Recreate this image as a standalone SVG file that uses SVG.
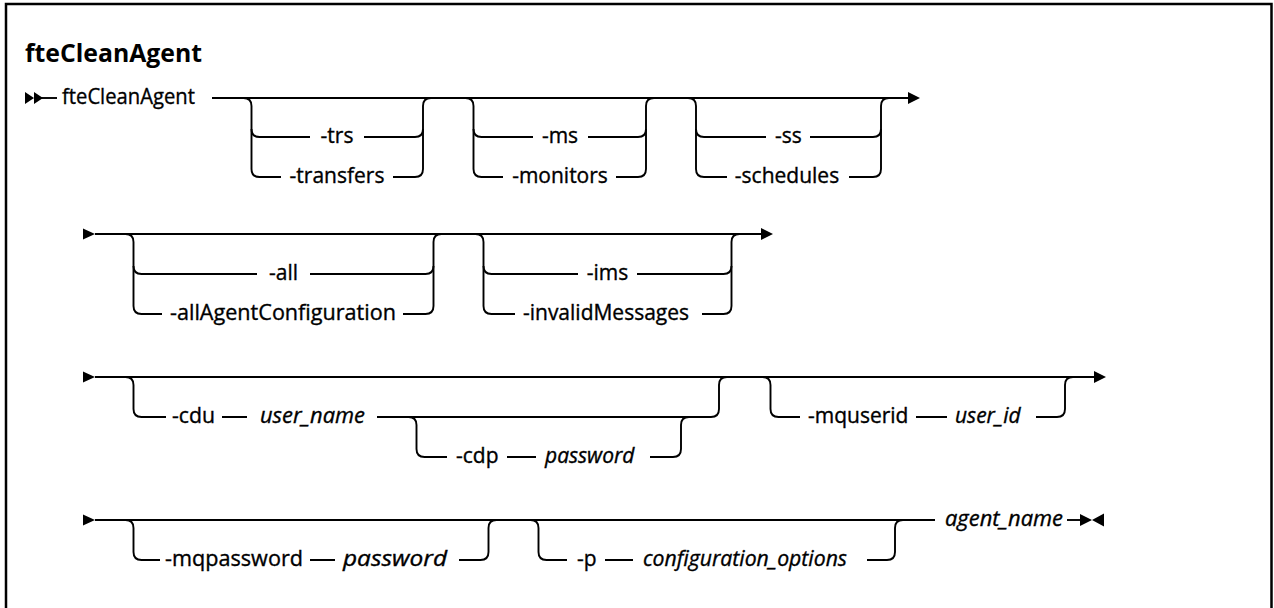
<svg xmlns="http://www.w3.org/2000/svg" width="1274" height="608" viewBox="0 0 1274 608">
<style>
.ln{fill:none;stroke:#000;stroke-width:1.9}
.ar{fill:#000;stroke:none}
.t{font-family:"Open Sans","Liberation Sans",sans-serif;font-size:21px;fill:#000;stroke:#000;stroke-width:0.35}
.c{text-anchor:middle}
.i{font-style:italic}
.h{font-family:"Open Sans","Liberation Sans",sans-serif;font-size:25px;font-weight:700;fill:#000}
</style>
<rect width="1274" height="608" fill="#fff"/>
<path d="M6,612 V4 H1271.5 V612" fill="none" stroke="#000" stroke-width="2.5"/>
<g id="title"><text class="h" x="25" y="62" textLength="177" lengthAdjust="spacingAndGlyphs">fteCleanAgent</text></g>

<g id="connectors">
<!-- row 1 -->
<path class="ar" d="M25,92 L34,98 L25,104 Z M34,92 L43,98 L34,104 Z"/>
<path class="ln" d="M34,98 H57"/>
<path class="ln" d="M212,98 H909"/>
<path class="ar" d="M908,92 L920,98 L908,104 Z"/>
<path class="ln" d="M243.5,98 Q251.5,98 251.5,106 V129 Q251.5,137 259.5,137 H310 M364,137 H415 Q423,137 423,129 V106 Q423,98 431,98"/>
<path class="ln" d="M251.5,129 V169 Q251.5,177 259.5,177 H281 M393,177 H415 Q423,177 423,169 V129"/>
<path class="ln" d="M465.5,98 Q473.5,98 473.5,106 V129 Q473.5,137 481.5,137 H533 M588,137 H638 Q646,137 646,129 V106 Q646,98 654,98"/>
<path class="ln" d="M473.5,129 V169 Q473.5,177 481.5,177 H503 M616,177 H638 Q646,177 646,169 V129"/>
<path class="ln" d="M688,98 Q696,98 696,106 V129 Q696,137 704,137 H766 M810,137 H873 Q881,137 881,129 V106 Q881,98 889,98"/>
<path class="ln" d="M696,129 V169 Q696,177 704,177 H727 M849,177 H873 Q881,177 881,169 V129"/>
<!-- row 2 -->
<path class="ar" d="M83,228.5 L95,234 L83,239.5 Z"/>
<path class="ln" d="M95,234 H762"/>
<path class="ar" d="M761,228 L773,234 L761,240 Z"/>
<path class="ln" d="M125.5,234 Q133.5,234 133.5,242 V266 Q133.5,274 141.5,274 H257 M310,274 H425.5 Q433.5,274 433.5,266 V242 Q433.5,234 441.5,234"/>
<path class="ln" d="M133.5,266 V306 Q133.5,314 141.5,314 H162 M403,314 H425.5 Q433.5,314 433.5,306 V266"/>
<path class="ln" d="M475.5,234 Q483.5,234 483.5,242 V266 Q483.5,274 491.5,274 H578 M637,274 H723.5 Q731.5,274 731.5,266 V242 Q731.5,234 739.5,234"/>
<path class="ln" d="M483.5,266 V306 Q483.5,314 491.5,314 H515 M702,314 H723.5 Q731.5,314 731.5,306 V266"/>
<!-- row 3 -->
<path class="ar" d="M83,371.5 L95,377 L83,382.5 Z"/>
<path class="ln" d="M95,377 H1095"/>
<path class="ar" d="M1094,371 L1106,377 L1094,383 Z"/>
<path class="ln" d="M125.5,377 Q133.5,377 133.5,385 V409 Q133.5,417 141.5,417 H166 M222,417 H247 M377,417 H711 Q719,417 719,409 V385 Q719,377 727,377"/>
<path class="ln" d="M408.5,417 Q416.5,417 416.5,425 V449 Q416.5,457 424.5,457 H447 M507,457 H536 M650,457 H673 Q681,457 681,449 V425 Q681,417 689,417"/>
<path class="ln" d="M762.5,377 Q770.5,377 770.5,385 V409 Q770.5,417 778.5,417 H800 M916,417 H947 M1036,417 H1057 Q1065,417 1065,409 V385 Q1065,377 1073,377"/>
<!-- row 4 -->
<path class="ar" d="M83,514.5 L95,520 L83,525.5 Z"/>
<path class="ln" d="M95,520 H935"/>
<path class="ln" d="M125.5,520 Q133.5,520 133.5,528 V552 Q133.5,560 141.5,560 H160 M310,560 H335 M459,560 H480.5 Q488.5,560 488.5,552 V528 Q488.5,520 496.5,520"/>
<path class="ln" d="M530.5,520 Q538.5,520 538.5,528 V552 Q538.5,560 546.5,560 H567 M605,560 H633 M867,560 H887 Q895,560 895,552 V528 Q895,520 903,520"/>
<path class="ln" d="M1067,520 H1084"/>
<path class="ar" d="M1080,514 L1092,520 L1080,526 Z M1104,513.5 L1092,520 L1104,526.5 Z"/>
</g>

<g id="n-fteCleanAgent"><text class="t" x="62" y="104" textLength="133" lengthAdjust="spacingAndGlyphs">fteCleanAgent</text></g>
<g id="n-trs"><text class="t c" x="337" y="143">-trs</text></g>
<g id="n-transfers"><text class="t c" x="337" y="183">-transfers</text></g>
<g id="n-ms"><text class="t c" x="560" y="143">-ms</text></g>
<g id="n-monitors"><text class="t c" x="560" y="183">-monitors</text></g>
<g id="n-ss"><text class="t c" x="788.5" y="143">-ss</text></g>
<g id="n-schedules"><text class="t c" x="787" y="183">-schedules</text></g>

<g id="n-all"><text class="t c" x="283.5" y="280">-all</text></g>
<g id="n-allAgentConfiguration"><text class="t c" x="283" y="320" textLength="226" lengthAdjust="spacingAndGlyphs">-allAgentConfiguration</text></g>
<g id="n-ims"><text class="t c" x="607.5" y="280">-ims</text></g>
<g id="n-invalidMessages"><text class="t c" x="606" y="320">-invalidMessages</text></g>

<g id="n-cdu"><text class="t" x="172" y="423" textLength="43" lengthAdjust="spacingAndGlyphs">-cdu</text></g>
<g id="n-user_name"><text class="t i" x="260" y="423" textLength="105" lengthAdjust="spacingAndGlyphs">user_name</text></g>
<g id="n-cdp"><text class="t" x="456" y="463">-cdp</text></g>
<g id="n-password1"><text class="t i" x="545" y="463">password</text></g>
<g id="n-mquserid"><text class="t" x="808" y="423">-mquserid</text></g>
<g id="n-user_id"><text class="t i" x="955" y="423">user_id</text></g>

<g id="n-mqpassword"><text class="t" x="165" y="566" textLength="138" lengthAdjust="spacingAndGlyphs">-mqpassword</text></g>
<g id="n-password2"><text class="t i" x="343" y="566" textLength="104" lengthAdjust="spacingAndGlyphs">password</text></g>
<g id="n-p"><text class="t" x="577" y="566">-p</text></g>
<g id="n-configuration_options"><text class="t i" x="643" y="566" textLength="204" lengthAdjust="spacingAndGlyphs">configuration_options</text></g>
<g id="n-agent_name"><text class="t i" x="945" y="526" textLength="118" lengthAdjust="spacingAndGlyphs">agent_name</text></g>
</svg>
